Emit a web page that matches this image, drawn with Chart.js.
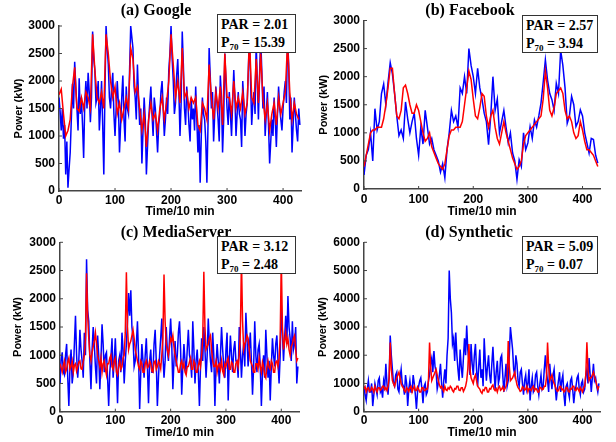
<!DOCTYPE html>
<html>
<head>
<meta charset="utf-8">
<script src="https://cdn.jsdelivr.net/npm/chart.js@4.4.1/dist/chart.umd.min.js"></script>
<style>
  body { margin: 0; background: #fff; width: 616px; height: 442px; position: relative; overflow: hidden; }
  canvas { position: absolute; }
  .titulo { position: absolute; font: bold 16px "Liberation Serif", "Times New Roman", serif; text-align: center; color: #000; line-height: 20px; }
  .caixa { position: absolute; background: #fff; border: 1.3px solid #333; box-sizing: border-box;
           font: bold 14px "Liberation Serif", "Times New Roman", serif; color: #000; padding: 1px 0 0 3px; line-height: 17.5px; }
  .caixa sub { font-size: 9px; vertical-align: -3px; line-height: 0; }
</style>
</head>
<body>
<canvas id="g-google" width="308" height="222" style="left:0;top:0"></canvas>
<canvas id="g-facebook" width="306" height="222" style="left:310px;top:0"></canvas>
<canvas id="g-media" width="308" height="220" style="left:0;top:222px"></canvas>
<canvas id="g-synth" width="306" height="220" style="left:310px;top:222px"></canvas>

<div class="titulo" style="left:80px;top:0;width:152px">(a) Google</div>
<div class="titulo" style="left:394px;top:0;width:152px">(b) Facebook</div>
<div class="titulo" style="left:100px;top:222px;width:152px">(c) MediaServer</div>
<div class="titulo" style="left:393px;top:222px;width:152px">(d) Synthetic</div>

<div class="caixa" style="left:217px;top:14px;width:79px;height:39px">PAR = 2.01<br>P<sub>70</sub> = 15.39</div>
<div class="caixa" style="left:522px;top:15px;width:76px;height:38px">PAR = 2.57<br>P<sub>70</sub> = 3.94</div>
<div class="caixa" style="left:217px;top:236px;width:79px;height:38px">PAR = 3.12<br>P<sub>70</sub> = 2.48</div>
<div class="caixa" style="left:522px;top:236px;width:76px;height:38px">PAR = 5.09<br>P<sub>70</sub> = 0.07</div>

<script>
// Dados: séries azuis ruidosas a cada 2 intervalos, as outras a cada 4
const googleBlue = [
  1700, 1450, 1100, 1500, 950, 1200, 300, 900, 60, 400, 700, 1300, 1950, 1500, 2350, 1900, 1500, 1100, 2050, 1400,
  1700, 1200, 600, 1600, 2000, 1500, 2150, 1800, 1250, 1700, 2900, 2400, 2200, 1600, 1700, 2000, 1100, 1500, 2000, 1200,
  300, 1800, 3000, 2600, 2300, 1700, 1500, 1900, 2150, 1400, 1000, 1500, 2000, 1600, 700, 1200, 1700, 2100, 1300, 900,
  1900, 1500, 1400, 2200, 3000, 2800, 2600, 1900, 1700, 1300, 2300, 1700, 1200, 1500, 500, 1100, 1700, 1300, 300, 800,
  1300, 1600, 1900, 1400, 1000, 1700, 1500, 1100, 700, 1200, 1400, 1800, 2000, 1500, 1000, 1300, 1700, 1400, 2200, 2500,
  3000, 2400, 2000, 1400, 1600, 2100, 2400, 1800, 1000, 1600, 2900, 2300, 1500, 1200, 1900, 1600, 1200, 900, 1700, 1300,
  1500, 1100, 1900, 1300, 700, 1200, 150, 1000, 1700, 1400, 1300, 900, 150, 1200, 2600, 2100, 1500, 1800, 900, 1400,
  1900, 1600, 1300, 900, 2100, 1700, 700, 1300, 2500, 2000, 1500, 1200, 1800, 1400, 1000, 1600, 2200, 1700, 1000, 1400,
  1800, 1400, 1300, 800, 2000, 1600, 1000, 1400, 1600, 2200, 2900, 2000, 1200, 1600, 1800, 1400, 2700, 2000, 1300, 2100,
  2800, 2200, 1500, 1900, 1000, 1400, 1800, 1200, 500, 900, 1300, 1000, 1700, 1300, 800, 1400, 1900, 1500, 1300, 1100,
  1500, 1800, 2000, 1600, 2800, 2300, 1300, 1700, 700, 1200, 1700, 1400, 1100, 900, 1500, 1200
];
const googleRed = [
  1750, 1850, 1400, 1000, 1100, 1300, 1900, 2250, 1500, 1450,
  1700, 1500, 1800, 1700, 1500, 2850, 2200, 1700, 1600, 1800,
  1500, 2850, 2500, 2000, 1700, 1900, 1400, 1600, 1300, 1500,
  1700, 1500, 2600, 2400, 1800, 1900, 1500, 1100, 1400, 800,
  1300, 1600, 1300, 1400, 1100, 1500, 1700, 1300, 1600, 2000,
  2850, 2300, 1700, 2000, 1600, 2600, 1700, 1800, 1500, 1700,
  1600, 1700, 1200, 1100, 1600, 1500, 1300, 2300, 1700, 1300,
  1800, 1500, 1900, 1200, 2500, 1700, 1700, 1400, 2000, 1500,
  1700, 1500, 1800, 1400, 1600, 2800, 1700, 1600, 2400, 1600,
  2500, 1700, 1300, 1600, 1100, 1400, 1600, 1200, 1700, 1400,
  1600, 1800, 2700, 1800, 1300, 1600, 1400, 1300
];

const facebookBlue = [
  250, 600, 700, 1000, 500, 1430, 1050, 1200, 1700, 1870,
  1500, 1900, 2250, 2050, 1700, 1300, 950, 1050, 900, 1550,
  1250, 1000, 1200, 1350, 900, 600, 1100, 800, 1400, 1100,
  800, 900, 700, 600, 500, 300, 450, 200, 700, 1000,
  1400, 1200, 1300, 1100, 1800, 1700, 2000, 1700, 2500, 2200,
  2000, 1700, 2150, 1800, 1600, 1350, 1200, 790, 1300, 2000,
  1400, 1600, 1000, 1200, 1400, 1100, 820, 1000, 640, 500,
  170, 520, 400, 1000, 700, 820, 1110, 900, 1230, 1100,
  1300, 1530, 1900, 2300, 1940, 1700, 1590, 1400, 1880, 1700,
  2470, 2200, 1800, 1170, 1300, 1650, 1500, 1110, 1200, 1410,
  1300, 1000, 820, 640, 900, 880, 600, 460
];
const facebookRed = [
  400, 600, 800, 1000, 1050, 1050, 1100, 1100, 1100, 1250,
  1500, 1800, 2150, 2150, 1700, 1300, 1250, 1400, 1800, 1850,
  1700, 1500, 1350, 1350, 1500, 1400, 1200, 1000, 850, 900,
  1000, 750, 650, 550, 450, 400, 350, 450, 700, 950,
  1050, 1050, 1100, 1100, 1100, 1200, 1500, 1800, 2100, 1950,
  1600, 1300, 1250, 1450, 1700, 1650, 1300, 1100, 1300, 1400,
  1100, 900, 800, 1000, 1200, 1000, 850, 700, 550, 450,
  350, 400, 500, 800, 950, 1000, 1050, 1100, 1150, 1200,
  1250, 1300, 1600, 2100, 1800, 1400, 1300, 1450, 1700, 1750,
  1800, 1700, 1400, 1250, 1300, 1200, 1000, 900, 950, 1200,
  1050, 850, 700, 700, 650, 600, 500, 400
];

const mediaBlue = [
  500, 900, 1050, 700, 650, 1000, 1200, 600, 100, 800, 1100, 500, 700, 1200, 1700, 1000, 600, 900, 1450, 1100,
  900, 600, 1400, 1000, 2700, 1800, 1600, 900, 400, 1100, 1500, 1200, 800, 500, 1350, 1000, 400, 900, 1550, 1200,
  700, 1000, 1050, 600, 100, 700, 950, 1300, 600, 900, 1300, 800, 150, 900, 1000, 700, 1400, 1100, 500, 900,
  1200, 1600, 2100, 1700, 2150, 1500, 1300, 800, 900, 1200, 1600, 1000, 50, 700, 1200, 900, 600, 1000, 1300, 800,
  150, 900, 1100, 700, 700, 1200, 1450, 900, 100, 600, 1000, 1300, 1650, 1000, 600, 900, 1500, 1100, 900, 1300,
  1650, 1200, 400, 900, 1250, 800, 1000, 1400, 1600, 1100, 300, 800, 1200, 900, 700, 1100, 1450, 1000, 900, 600,
  1600, 1100, 500, 900, 1100, 700, 100, 800, 1300, 900, 1500, 1100, 600, 1000, 1650, 1200, 900, 700, 1400, 1000,
  100, 800, 1200, 900, 500, 1000, 1500, 1100, 800, 600, 1100, 1400, 200, 900, 1350, 1000, 700, 1100, 1250, 900,
  900, 600, 1500, 1100, 600, 1000, 1200, 800, 1750, 1300, 800, 1100, 1400, 900, 300, 800, 1600, 1000, 700, 1100,
  1200, 800, 100, 700, 1000, 600, 1450, 1000, 600, 900, 200, 800, 1300, 1000, 800, 1200, 1350, 900, 500, 1000,
  1900, 1400, 900, 1300, 1700, 1200, 2050, 1500, 1300, 900, 1600, 1100, 1200, 1500, 500, 800
];
const mediaRed = [
  850, 780, 700, 820, 900, 700, 750, 880, 950, 750, 800, 900, 700, 820, 850, 720, 800, 880, 900, 760,
  750, 880, 1000, 1300, 2450, 1700, 1300, 1000, 900, 1050, 1150, 1250, 1400, 1200, 1000, 900, 800, 950, 700, 850,
  900, 750, 650, 850, 850, 950, 1000, 800, 750, 900, 950, 700, 650, 800, 900, 750, 800, 950, 1000, 1400,
  2470, 1500, 1100, 1200, 1250, 1350, 1450, 1300, 1100, 1000, 900, 800, 750, 900, 850, 700, 700, 850, 900, 780,
  800, 900, 850, 720, 700, 880, 900, 750, 800, 900, 850, 760, 1000, 1300, 2430, 1600, 1200, 1100, 1000, 1150,
  1300, 1250, 1350, 1150, 1000, 900, 800, 700, 700, 850, 900, 780, 850, 700, 650, 800, 800, 880, 950, 750,
  750, 900, 850, 700, 700, 820, 900, 800, 1000, 1300, 2480, 1500, 1100, 1150, 1200, 1300, 1350, 1100, 900, 800,
  800, 900, 700, 820, 850, 750, 900, 720, 650, 850, 800, 900, 950, 750, 750, 880, 850, 700, 700, 860,
  900, 800, 1000, 1400, 2700, 1600, 1100, 1200, 1250, 1350, 1300, 1100, 900, 850, 800, 700, 700, 850, 850, 760,
  950, 800, 700, 880, 800, 650, 600, 800, 900, 780, 750, 900, 850, 700, 700, 880, 900, 800, 950, 1300,
  2700, 1500, 1100, 1250, 1400, 1200, 1300, 1100, 1000, 1150, 1200, 1300, 1350, 1100, 900, 950
];

const synthBlue = [
  900, 600, 400, 800, 1100, 700, 700, 1000, 200, 600, 1000, 800, 600, 1100, 1200, 700, 800, 500, 1100, 900,
  1700, 1000, 600, 1200, 2700, 2000, 1500, 1000, 900, 1300, 1400, 800, 700, 1200, 1500, 1000, 900, 600, 1300, 1000,
  200, 800, 1100, 700, 700, 1300, 1000, 600, 100, 700, 900, 1100, 1200, 800, 300, 900, 1000, 600, 700, 1100,
  1300, 1700, 1900, 1400, 2150, 1600, 1400, 800, 1000, 1300, 1700, 1000, 500, 1100, 1500, 1000, 2000, 2600, 5000, 4000,
  3500, 2400, 2600, 1800, 2800, 2000, 1500, 1100, 2200, 1600, 1200, 1900, 2600, 2000, 3050, 2200, 1800, 1300, 2400, 1700,
  1300, 2000, 2400, 1500, 900, 1600, 2200, 1200, 1500, 900, 2600, 1800, 1100, 1600, 2000, 1300, 1000, 1700, 2300, 1500,
  800, 1400, 1800, 1000, 1200, 1900, 2000, 1300, 700, 1200, 1700, 900, 1100, 2000, 3000, 2600, 2200, 1500, 1300, 2000,
  1700, 1100, 900, 1400, 1500, 1000, 600, 1100, 1300, 800, 1000, 1500, 400, 900, 1200, 700, 800, 1300, 1400, 900,
  600, 1000, 1300, 800, 900, 1500, 2000, 1400, 1100, 700, 1700, 1200, 800, 1300, 1500, 900, 400, 800, 1100, 1400,
  700, 1100, 1300, 600, 200, 900, 1000, 700, 500, 1100, 1200, 800, 300, 700, 900, 1200, 1300, 800, 600, 1000,
  1100, 700, 800, 1300, 1500, 1000, 1900, 1300, 700, 1200, 1700, 1100, 1200, 900, 700, 1000
];
const synthRed = [
  800, 880, 700, 820, 850, 720, 750, 860, 800, 700, 900, 780, 700, 850, 850, 760, 800, 900, 900, 780,
  850, 750, 900, 1200, 2450, 1500, 1100, 1000, 900, 1050, 1200, 1300, 1400, 1200, 1000, 900, 850, 750, 700, 850,
  800, 720, 850, 900, 700, 820, 900, 750, 750, 880, 800, 700, 700, 850, 850, 750, 750, 820, 800, 1100,
  2450, 1600, 1100, 1200, 1300, 1400, 1500, 1300, 1100, 950, 850, 900, 800, 720, 900, 780, 750, 850, 800, 900,
  850, 750, 700, 820, 800, 900, 900, 760, 750, 850, 850, 720, 800, 900, 1100, 1500, 2400, 1500, 1200, 1100,
  1000, 1200, 1300, 1100, 900, 850, 800, 700, 650, 780, 750, 860, 850, 700, 700, 820, 800, 900, 950, 800,
  750, 820, 700, 850, 900, 760, 800, 880, 750, 820, 900, 1100, 2500, 1600, 1100, 1150, 1200, 1300, 1400, 1150,
  950, 850, 800, 720, 750, 880, 850, 760, 800, 900, 700, 820, 800, 750, 850, 900, 750, 820, 800, 700,
  700, 860, 850, 780, 800, 900, 900, 1200, 2450, 1600, 1100, 1200, 1300, 1100, 1000, 900, 800, 720, 750, 880,
  900, 780, 800, 700, 750, 860, 850, 720, 700, 820, 800, 900, 900, 760, 750, 850, 800, 720, 850, 780,
  700, 850, 900, 1300, 2460, 1500, 1100, 1200, 1200, 1300, 1400, 1250, 1100, 950, 800, 900
];

const xTicks = [0, 100, 200, 300, 400];

// Desenha os ticks para dentro (estilo MATLAB)
const ticksDentro = {
  id: 'ticksDentro',
  afterDraw(chart) {
    const { ctx, chartArea: a, scales: { x, y } } = chart;
    ctx.save();
    ctx.strokeStyle = '#444';
    ctx.lineWidth = 1;
    x.ticks.forEach((tk) => {
      const px = x.getPixelForValue(tk.value);
      ctx.beginPath();
      ctx.moveTo(px, a.bottom);
      ctx.lineTo(px, a.bottom - 3);
      ctx.stroke();
    });
    y.ticks.forEach((tk) => {
      const py = y.getPixelForValue(tk.value);
      ctx.beginPath();
      ctx.moveTo(a.left, py);
      ctx.lineTo(a.left + 3, py);
      ctx.stroke();
    });
    ctx.restore();
  }
};

// Converte valores em pontos {x, y}; passo = intervalos de 10 min entre amostras
function serie(valores, passo) {
  return valores.map((v, i) => ({ x: i * passo, y: v }));
}

function criarGrafico(id, azul, passoAzul, vermelho, passoVermelho, cfg) {
  const fonteTick = { family: '"Liberation Sans", Arial, sans-serif', size: 12, weight: 'bold' };
  return new Chart(document.getElementById(id), {
    type: 'line',
    data: {
      datasets: [
        { data: serie(vermelho, passoVermelho), borderColor: '#ff0000', borderWidth: 1.5, pointRadius: 0, order: 0 },
        { data: serie(azul, passoAzul), borderColor: '#0000ff', borderWidth: 1.5, pointRadius: 0, order: 1 }
      ]
    },
    options: {
      responsive: false,
      animation: false,
      events: [],
      layout: { padding: { top: cfg.top, right: cfg.right, left: 0, bottom: 0 } },
      plugins: { legend: { display: false }, tooltip: { enabled: false } },
      scales: {
        x: {
          type: 'linear',
          min: 0,
          max: 432,
          afterBuildTicks: (s) => { s.ticks = xTicks.map((v) => ({ value: v })); },
          afterFit: (s) => { s.height = cfg.xH; },
          ticks: { font: fonteTick, color: '#000', padding: cfg.xPad, maxRotation: 0, callback: (v) => String(v) },
          grid: { display: true, drawOnChartArea: false, drawTicks: false },
          border: { display: true, color: '#444', width: 1.5 },
          title: {
            display: true, text: 'Time/10 min', color: '#000',
            font: { family: '"Liberation Sans", Arial, sans-serif', size: 12, weight: 'bold' },
            padding: { top: 0, bottom: cfg.titleBot }
          }
        },
        y: {
          min: 0,
          max: cfg.yMax,
          ticks: { stepSize: cfg.yStep, font: fonteTick, color: '#000', padding: 4, callback: (v) => String(v) },
          afterFit: (s) => { s.width = cfg.yW; },
          grid: { display: true, drawOnChartArea: false, drawTicks: false },
          border: { display: true, color: '#444', width: 1.5 },
          title: {
            display: true, text: 'Power (kW)', color: '#000',
            font: { family: '"Liberation Sans", Arial, sans-serif', size: 11, weight: 'bold' },
            padding: { top: cfg.yTitle, bottom: 0 }
          }
        }
      }
    },
    plugins: [ticksDentro]
  });
}

criarGrafico('g-google', googleBlue, 2, googleRed, 4,
  { top: 26, right: 7, xH: 31, xPad: 2, titleBot: 3, yMax: 3000, yStep: 500, yW: 59, yTitle: 12 });
criarGrafico('g-facebook', facebookBlue, 4, facebookRed, 4,
  { top: 20.5, right: 16, xH: 33, xPad: 3, titleBot: 3, yMax: 3000, yStep: 500, yW: 54, yTitle: 7 });
criarGrafico('g-media', mediaBlue, 2, mediaRed, 2,
  { top: 20.3, right: 9, xH: 30.3, xPad: 2, titleBot: 2, yMax: 3000, yStep: 500, yW: 60, yTitle: 11.5 });
criarGrafico('g-synth', synthBlue, 2, synthRed, 2,
  { top: 20.3, right: 16, xH: 30.3, xPad: 2, titleBot: 2, yMax: 6000, yStep: 1000, yW: 54, yTitle: 6.5 });
</script>
</body>
</html>
